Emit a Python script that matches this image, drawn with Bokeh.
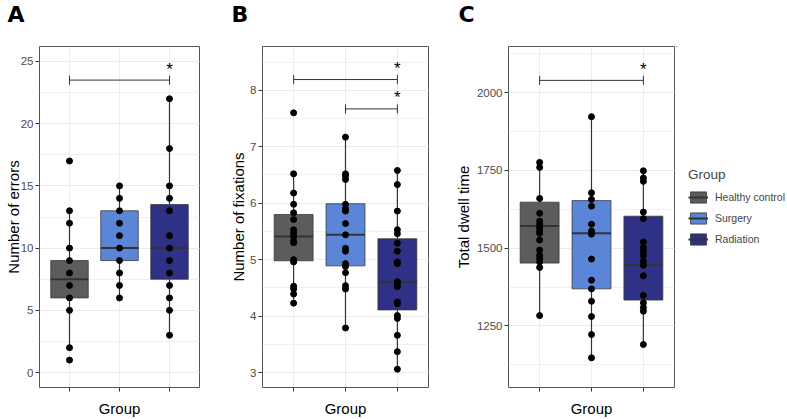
import numpy as np
from bokeh.plotting import figure
from bokeh.layouts import row, column
from bokeh.models import (Range1d, FixedTicker, SingleIntervalTicker,
                          Legend, LegendItem, CustomJSTickFormatter)
from bokeh.core.properties import value
from bokeh.embed import file_html
from bokeh.resources import INLINE

# ---------------- data ----------------
groups = ["Healthy control", "Surgery", "Radiation"]
group_pos = [1, 2, 3]
fills = ["#5c5c5c", "#5b86d8", "#2e3186"]
panel_letters = ["A", "B", "C"]

# Panel A: Number of errors
errors_hc = [17, 13, 12, 10, 9, 8, 7, 6, 5, 2, 1]
errors_su = [15, 14, 13, 12, 11, 10, 9, 8, 7, 6]
errors_ra = [22, 18, 15, 14, 13, 11, 10, 9, 8, 7, 6, 5, 3]
errors_q1 = [6, 9, 7.5]
errors_med = [7.5, 10, 10]
errors_q3 = [9, 13, 13.5]
errors_lo = [2, 6, 3]
errors_hi = [13, 15, 22]
errors_sig_from = [1]
errors_sig_to = [3]
errors_sig_y = [23.5]

# Panel B: Number of fixations
fix_hc = [7.60, 6.52, 6.18, 5.98, 5.83, 5.71, 5.53, 5.47, 5.41, 5.33, 5.30,
          5.00, 4.96, 4.53, 4.48, 4.39, 4.23]
fix_su = [7.17, 6.52, 6.48, 6.42, 5.98, 5.90, 5.86, 5.64, 5.44, 5.20, 5.15,
          4.93, 4.88, 4.77, 4.54, 4.48, 3.79]
fix_ra = [6.58, 6.33, 5.86, 5.53, 5.46, 5.29, 5.15, 4.96, 4.93, 4.61, 4.56,
          4.52, 4.25, 4.22, 4.01, 3.96, 3.66, 3.37, 3.06]
fix_q1 = [4.98, 4.89, 4.11]
fix_med = [5.41, 5.44, 4.60]
fix_q3 = [5.80, 5.99, 5.37]
fix_lo = [4.23, 3.79, 3.06]
fix_hi = [6.52, 7.17, 6.58]
fix_sig_from = [1, 2]
fix_sig_to = [3, 3]
fix_sig_y = [8.19, 7.67]

# Panel C: Total dwell time
dwell_hc = [1776, 1760, 1660, 1612, 1587, 1577, 1566, 1555, 1548, 1526, 1494,
            1477, 1467, 1456, 1438, 1283]
dwell_su = [1923, 1678, 1657, 1635, 1577, 1555, 1545, 1465, 1397, 1369, 1329,
            1280, 1222, 1147]
dwell_ra = [1749, 1726, 1715, 1616, 1595, 1520, 1502, 1491, 1477, 1459, 1445,
            1411, 1348, 1324, 1309, 1297, 1190]
dwell_q1 = [1452, 1369, 1333]
dwell_med = [1571, 1548, 1446]
dwell_q3 = [1648, 1653, 1603]
dwell_lo = [1283, 1147, 1190]
dwell_hi = [1776, 1923, 1749]
dwell_sig_from = [1]
dwell_sig_to = [3]
dwell_sig_y = [2040]

# ---------------- style / layout constants ----------------
FONT = "Liberation Sans"
BOX_W = 0.75
W = 787
H = 419
STRIP_H = 45          # header strip holding the panel letters
PANEL_H = H - STRIP_H
BOTTOM = 30
WA, WB, WC = 226, 224, 226
WL = W - WA - WB - WC
LETTER_X = [7, 231, 458]   # screen px of panel letters in the strip
LETTER_Y = 31              # px above strip bottom for the letter baseline


def make_panel(ylabel, pts, q1, med, q3, lo, hi, sfrom, sto, sy,
               yr, interval, width, left, right, lab_standoff):
    p = figure(width=width, height=PANEL_H, output_backend="svg",
               toolbar_location=None, x_range=Range1d(0.4, 3.6),
               y_range=Range1d(*yr), min_border_left=left,
               min_border_right=right, min_border_top=1,
               min_border_bottom=BOTTOM)
    p.background_fill_color = "white"
    p.border_fill_color = "white"
    p.outline_line_color = "#555555"
    p.outline_line_width = 1

    p.xaxis.ticker = FixedTicker(ticks=group_pos, minor_ticks=[])
    p.yaxis.ticker = SingleIntervalTicker(interval=interval, num_minor_ticks=2)
    for ax in (p.xaxis[0], p.yaxis[0]):
        ax.axis_line_color = None
        ax.major_tick_in = 0
        ax.major_tick_out = 4
        ax.major_tick_line_color = "#333333"
        ax.minor_tick_in = 0
        ax.minor_tick_out = 0
        ax.major_label_text_font = FONT
        ax.major_label_text_color = "#4d4d4d"
        ax.major_label_text_font_size = "11.5px"
        ax.axis_label_text_font = FONT
        ax.axis_label_text_font_style = "normal"
        ax.axis_label_text_font_size = "15px"
        ax.axis_label_text_color = "black"
    p.xaxis.formatter = CustomJSTickFormatter(code="return ''")
    p.xaxis.major_label_standoff = 0
    p.xaxis.axis_label = "Group"
    p.xaxis.axis_label_standoff = 8
    p.yaxis.axis_label = ylabel
    p.yaxis.major_label_standoff = 2
    p.yaxis.axis_label_standoff = lab_standoff

    p.xgrid.grid_line_color = "#ebebeb"
    p.ygrid.grid_line_color = "#ebebeb"
    p.ygrid.minor_grid_line_color = "#f0f0f0"

    # whiskers
    p.segment(x0=group_pos, y0=q3, x1=group_pos, y1=hi,
              line_color="#333333", line_width=1.2)
    p.segment(x0=group_pos, y0=q1, x1=group_pos, y1=lo,
              line_color="#333333", line_width=1.2)
    # boxes
    p.vbar(x=group_pos, top=q3, bottom=q1, width=BOX_W, fill_color=fills,
           line_color="#333333", line_alpha=0.75, line_width=1)
    p.segment(x0=[g - BOX_W / 2 for g in group_pos], y0=med,
              x1=[g + BOX_W / 2 for g in group_pos], y1=med,
              line_color="#333333", line_width=2)
    # points
    for g, vals in zip(group_pos, pts):
        p.scatter(x=[g] * len(vals), y=vals, size=6, color="black")

    # significance bars
    p.segment(x0=sfrom, x1=sto, y0=sy, y1=sy, line_color="#333333",
              line_width=1)
    p.scatter(x=list(sfrom) + list(sto), y=list(sy) + list(sy), marker="dash",
              angle=np.pi / 2, size=9, line_color="#333333", line_width=1)
    p.text(x=sto, y=sy, text=["*"] * len(sy), y_offset=-11,
           text_align="center", text_baseline="middle",
           text_font_size="17px", text_color="#000000",
           text_font=value(FONT))
    return p


pA = make_panel("Number of errors", [errors_hc, errors_su, errors_ra],
                errors_q1, errors_med, errors_q3, errors_lo, errors_hi,
                errors_sig_from, errors_sig_to, errors_sig_y,
                (-1.2, 26.2), 5, WA, 39, 27, -4)
pB = make_panel("Number of fixations", [fix_hc, fix_su, fix_ra],
                fix_q1, fix_med, fix_q3, fix_lo, fix_hi,
                fix_sig_from, fix_sig_to, fix_sig_y,
                (2.736, 8.775), 1, WB, 36, 22, 0)
pC = make_panel("Total dwell time", [dwell_hc, dwell_su, dwell_ra],
                dwell_q1, dwell_med, dwell_q3, dwell_lo, dwell_hi,
                dwell_sig_from, dwell_sig_to, dwell_sig_y,
                (1051.6, 2149), 250, WC, 58, 2, 2)

# header strip with the panel letters (screen-pixel ranges)
strip = figure(width=W, height=STRIP_H, output_backend="svg",
               toolbar_location=None, x_axis_type=None, y_axis_type=None,
               x_range=Range1d(0, W), y_range=Range1d(0, STRIP_H),
               min_border=0, min_border_left=0, min_border_right=0,
               min_border_top=0, min_border_bottom=0)
strip.grid.visible = False
strip.outline_line_color = None
strip.text(x=LETTER_X, y=[LETTER_Y] * 3, text=panel_letters,
           text_baseline="alphabetic", text_align="left",
           text_font=value("DejaVu Sans"), text_font_style="bold",
           text_font_size="22px", text_color="black")

# legend figure: key glyphs use the same box data, kept off-frame
pL = figure(width=WL, height=PANEL_H, output_backend="svg",
            toolbar_location=None, x_axis_type=None, y_axis_type=None,
            x_range=Range1d(10, 11), y_range=Range1d(0, 1),
            min_border=0, min_border_left=0, min_border_right=0,
            min_border_top=0, min_border_bottom=0)
pL.grid.visible = False
pL.outline_line_color = None
boxL = pL.vbar(x=group_pos, top=dwell_q3, bottom=dwell_q1, width=BOX_W,
               fill_color=fills, line_color="#333333", line_alpha=0.75,
               line_width=1)
medL = pL.segment(x0=[g - BOX_W / 2 for g in group_pos], y0=dwell_med,
                  x1=[g + BOX_W / 2 for g in group_pos], y1=dwell_med,
                  line_color="#333333", line_width=2)
items = [LegendItem(label=g, renderers=[boxL, medL], index=i)
         for i, g in enumerate(groups)]
legend = Legend(items=items, location=(12, 141), title="Group",
                title_text_font=FONT, title_text_font_size="13.5px",
                title_text_font_style="normal", title_standoff=8,
                label_text_font=FONT, label_text_font_size="10.5px",
                glyph_width=20, glyph_height=14, spacing=7,
                label_standoff=7, padding=0, margin=0,
                border_line_alpha=0, background_fill_alpha=0)
pL.add_layout(legend, "center")

layout = column(strip, row(pA, pB, pC, pL))
open("out.html", "w").write(file_html(layout, INLINE))
